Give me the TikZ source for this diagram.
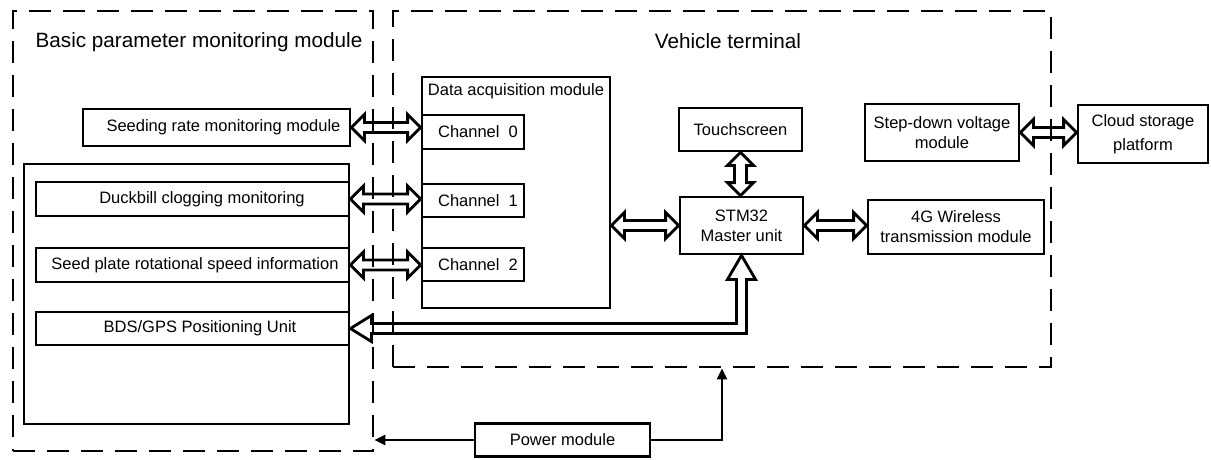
\documentclass[tikz,border=0pt]{standalone}
\usepackage{fontspec}
\setmainfont{Liberation Sans}
\usetikzlibrary{calc,arrows.meta}

% hollow double-headed arrow, left point to right point
\newcommand\harrow[2]{%
  \draw[hollow] (#1) -- ++(13,-13) -- ++(0,8) -- ($(#2)+(-13,-5)$) -- ++(0,-8)
    -- (#2) -- ++(-13,13) -- ++(0,-8) -- ($(#1)+(13,5)$) -- ++(0,8) -- cycle;}
% hollow double-headed arrow, top point to bottom point
\newcommand\varrow[2]{%
  \draw[hollow] (#1) -- ++(13,13) -- ++(-7,0) -- ($(#2)+(6,-13)$) -- ++(7,0)
    -- (#2) -- ++(-13,-13) -- ++(7,0) -- ($(#1)+(-6,13)$) -- ++(-7,0) -- cycle;}

\tikzset{
  x=1pt, y=-1pt,
  box/.style={draw, line width=2.8pt, rectangle, inner sep=0pt,
    font=\fontsize{16.5pt}{20pt}\selectfont, align=center},
  group/.style={draw, line width=2.8pt, dash pattern=on 22pt off 12pt,
    rectangle, inner sep=0pt},
  title/.style={font=\fontsize{20.7pt}{24pt}\selectfont, inner sep=0pt},
  hollow/.style={line width=2.8pt, line join=miter},
  pline/.style={line width=2.8pt, -{Triangle[length=11pt,width=10pt]}}
}

\begin{document}
\begin{tikzpicture}
\useasboundingbox[fill=white] (0,0) rectangle (1211,459);

% dashed enclosures
\node[group, minimum width=360, minimum height=440] (basic) at (193,231) {};
\node[group, minimum width=658, minimum height=356] (vt) at (722,189) {};
\node[title] (basictitle) at (199,42) {Basic parameter monitoring module};
\node[title] (vttitle) at (728,41) {Vehicle terminal};

% sensor modules
\node[box, minimum width=267, minimum height=37] (seed) at (216.5,127.5)
  {\hspace*{14pt}Seeding rate monitoring module};
\node[box, minimum width=325, minimum height=260] (sensors) at (186.5,294) {};
\node[box, minimum width=313, minimum height=34] (duck) at (192.5,199)
  {\hspace*{19pt}Duckbill clogging monitoring};
\node[box, minimum width=313, minimum height=34] (plate) at (192.5,265)
  {\hspace*{5pt}Seed plate rotational speed information};
\node[box, minimum width=313, minimum height=33] (bds) at (192.5,328.5)
  {\hspace*{15pt}BDS/GPS Positioning Unit};

% data acquisition
\node[box, minimum width=188, minimum height=231,
  label={[font=\fontsize{16.5pt}{20pt}\selectfont, anchor=north, yshift=-4pt]north:Data acquisition module}]
  (daq) at (516,192.5) {};
\node[box, minimum width=102, minimum height=34] (ch0) at (473,132) {\hspace*{10pt}Channel\ \ 0};
\node[box, minimum width=102, minimum height=33] (ch1) at (473,200.5) {\hspace*{10pt}Channel\ \ 1};
\node[box, minimum width=102, minimum height=33] (ch2) at (473,264.5) {\hspace*{10pt}Channel\ \ 2};

% controller and peripherals
\node[box, minimum width=123, minimum height=43] (touch) at (740.5,129.5) {Touchscreen};
\node[box, minimum width=123, minimum height=57] (stm) at (741.5,225.5) {STM32\\Master unit};
\node[box, minimum width=176, minimum height=54] (g4) at (956,227) {4G Wireless\\transmission module};
\node[box, minimum width=154, minimum height=57] (step) at (942,132.5) {Step-down voltage\\module};
\node[box, minimum width=130, minimum height=58, font=\fontsize{16.5pt}{24pt}\selectfont]
  (cloud) at (1143,134) {Cloud storage\\platform};
\node[box, minimum width=175, minimum height=33] (power) at (562.5,440) {Power module};

% data links
\harrow{seed.east}{seed.east -| ch0.west}
\harrow{duck.east}{duck.east -| ch1.west}
\harrow{plate.east}{plate.east -| ch2.west}
\harrow{stm.west -| daq.east}{stm.west}
\harrow{stm.east}{stm.east -| g4.west}
\harrow{step.east}{step.east -| cloud.west}
\varrow{touch.south}{touch.south |- stm.north}

% positioning link from the master unit
\draw[hollow] (stm.south) -- ++(14,24) -- ++(-9,0) |- ($(bds.east)+(21,5)$)
  -- ++(0,8) -- (bds.east) -- ++(21,-13) -- ++(0,8)
  -| ($(stm.south)+(-5,24)$) -- ++(-9,0) -- cycle;

% power supply
\draw[pline] (power.west) -- (power.west -| basic.east);
\draw[pline] (power.east) -| (vt.south);
\end{tikzpicture}
\end{document}
